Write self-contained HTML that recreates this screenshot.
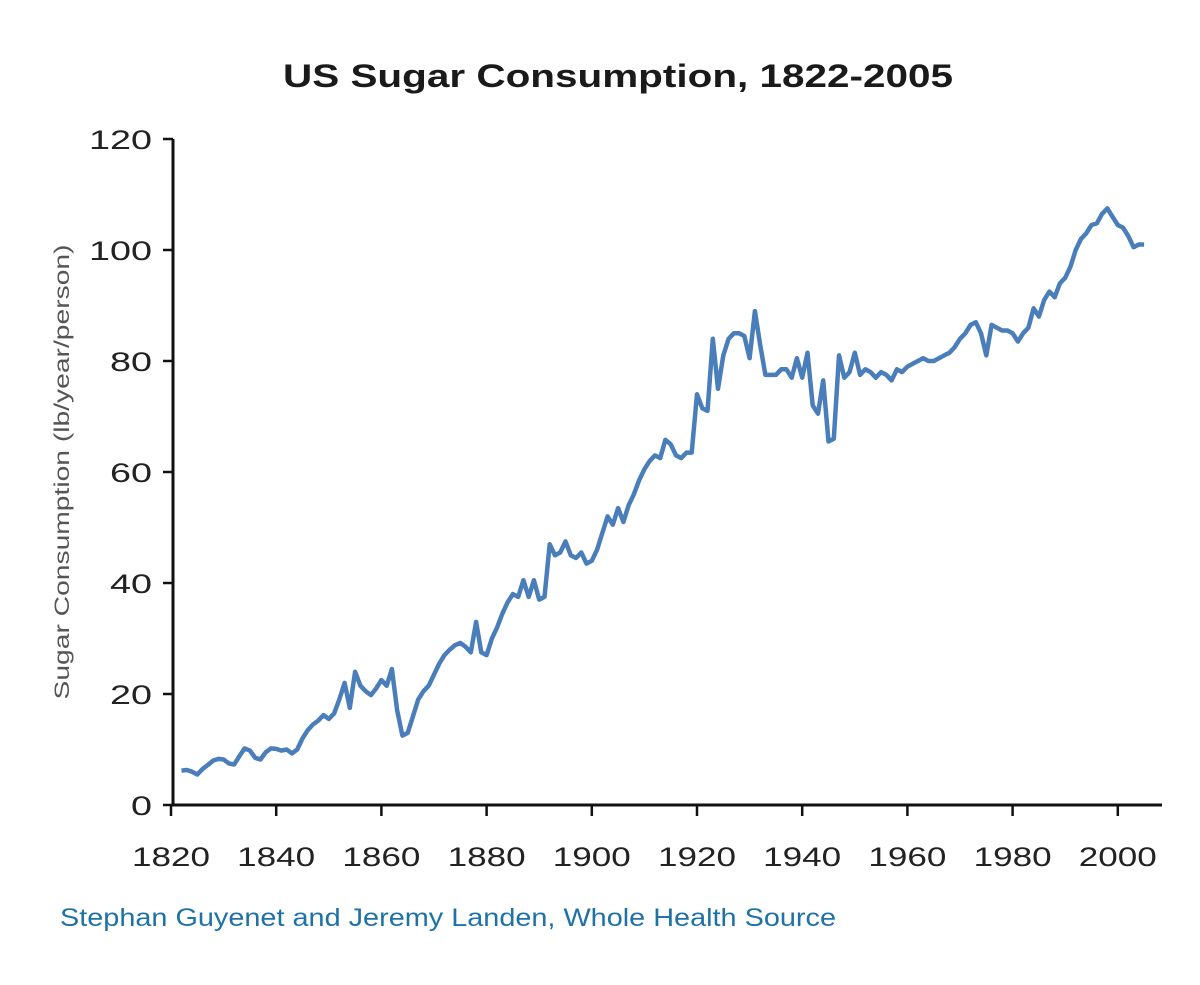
<!DOCTYPE html>
<html><head><meta charset="utf-8"><style>
body{margin:0;background:#fff;width:1200px;height:980px;overflow:hidden;font-family:"Liberation Sans",sans-serif}
</style></head><body>
<svg width="1200" height="980">
<text x="618" y="87" text-anchor="middle" font-size="32" font-weight="bold" fill="#1a1a1a" textLength="670" lengthAdjust="spacingAndGlyphs">US Sugar Consumption, 1822-2005</text>
<text transform="translate(69,472) rotate(-90)" text-anchor="middle" font-size="21" fill="#555" textLength="455" lengthAdjust="spacingAndGlyphs">Sugar Consumption (lb/year/person)</text>
<g id="axes"></g>
<g id="plot"></g>
<text x="60" y="926" font-size="25" fill="#1f72a6" textLength="776" lengthAdjust="spacingAndGlyphs">Stephan Guyenet and Jeremy Landen, Whole Health Source</text>
</svg>
<script>
const years=[1822,1823,1824,1825,1826,1827,1828,1829,1830,1831,1832,1833,1834,1835,1836,1837,1838,1839,1840,1841,1842,1843,1844,1845,1846,1847,1848,1849,1850,1851,1852,1853,1854,1855,1856,1857,1858,1859,1860,1861,1862,1863,1864,1865,1866,1867,1868,1869,1870,1871,1872,1873,1874,1875,1876,1877,1878,1879,1880,1881,1882,1883,1884,1885,1886,1887,1888,1889,1890,1891,1892,1893,1894,1895,1896,1897,1898,1899,1900,1901,1902,1903,1904,1905,1906,1907,1908,1909,1910,1911,1912,1913,1914,1915,1916,1917,1918,1919,1920,1921,1922,1923,1924,1925,1926,1927,1928,1929,1930,1931,1932,1933,1934,1935,1936,1937,1938,1939,1940,1941,1942,1943,1944,1945,1946,1947,1948,1949,1950,1951,1952,1953,1954,1955,1956,1957,1958,1959,1960,1961,1962,1963,1964,1965,1966,1967,1968,1969,1970,1971,1972,1973,1974,1975,1976,1977,1978,1979,1980,1981,1982,1983,1984,1985,1986,1987,1988,1989,1990,1991,1992,1993,1994,1995,1996,1997,1998,1999,2000,2001,2002,2003,2004,2005];
const consumption=[6.2,6.3,6,5.5,6.5,7.2,8,8.3,8.2,7.5,7.3,8.8,10.2,9.8,8.5,8.2,9.5,10.2,10.1,9.8,10,9.3,10,12,13.5,14.5,15.2,16.2,15.5,16.5,19,22,17.5,24,21.5,20.5,19.8,21,22.5,21.5,24.5,17,12.5,13,16,19,20.5,21.5,23.5,25.5,27,28,28.8,29.2,28.5,27.5,33,27.5,27,30,32,34.5,36.5,38,37.5,40.5,37.5,40.5,37,37.5,47,45,45.5,47.5,45,44.5,45.5,43.5,44,46,49,52,50.5,53.5,51,54,56,58.5,60.5,62,63,62.5,65.8,65,63,62.5,63.5,63.5,74,71.5,71,84,75,81,84,85,85,84.5,80.5,89,83,77.5,77.5,77.5,78.5,78.5,77,80.5,77,81.5,72,70.5,76.5,65.5,66,81,77,78,81.5,77.5,78.5,78,77,78,77.5,76.5,78.5,78,79,79.5,80,80.5,80,80,80.5,81,81.5,82.5,84,85,86.5,87,85,81,86.5,86,85.5,85.5,85,83.5,85,86,89.5,88,91,92.5,91.5,94,95,97,100,102,103,104.5,104.8,106.5,107.5,106,104.5,104,102.5,100.5,101,101];
const xTicks=[1820,1840,1860,1880,1900,1920,1940,1960,1980,2000];
const yTicks=[0,20,40,60,80,100,120];
const NS="http://www.w3.org/2000/svg";
const X=y=>171+(y-1820)*105.2/20;
const Y=v=>805-v*5.55;
const axes=document.getElementById('axes'),plot=document.getElementById('plot');
function mk(tag,attrs,parent){const e=document.createElementNS(NS,tag);for(const k in attrs)e.setAttribute(k,attrs[k]);parent.appendChild(e);return e;}
const ya=mk('line',{x1:173,y1:Y(120),x2:173,y2:806,stroke:'#111','stroke-width':3},axes);


const xa=mk('line',{x1:172,y1:805,x2:1162,y2:805,stroke:'#111','stroke-width':3},axes);


yTicks.forEach(v=>{
 mk('line',{x1:163,y1:Y(v),x2:173,y2:Y(v),stroke:'#111','stroke-width':2.5},axes);
 const s=String(v);
 const t=mk('text',{x:152,y:Y(v)+10,'text-anchor':'end','font-size':27,fill:'#222',textLength:s.length*21,lengthAdjust:'spacingAndGlyphs'},axes);
 t.textContent=s;
 
 
});
xTicks.forEach(y=>{
 mk('line',{x1:X(y),y1:805,x2:X(y),y2:816,stroke:'#111','stroke-width':2.5},axes);
 const t=mk('text',{x:X(y),y:866,'text-anchor':'middle','font-size':27,fill:'#222',textLength:78,lengthAdjust:'spacingAndGlyphs'},axes);
 t.textContent=y;
 
 
});
const d=years.map((y,i)=>(i?'L':'M')+X(y).toFixed(1)+','+Y(consumption[i]).toFixed(1)).join(' ');
const p=mk('path',{d:d,fill:'none',stroke:'#4a7ebb','stroke-width':4.5,'stroke-linejoin':'round'},plot);


</script>
</body></html>
